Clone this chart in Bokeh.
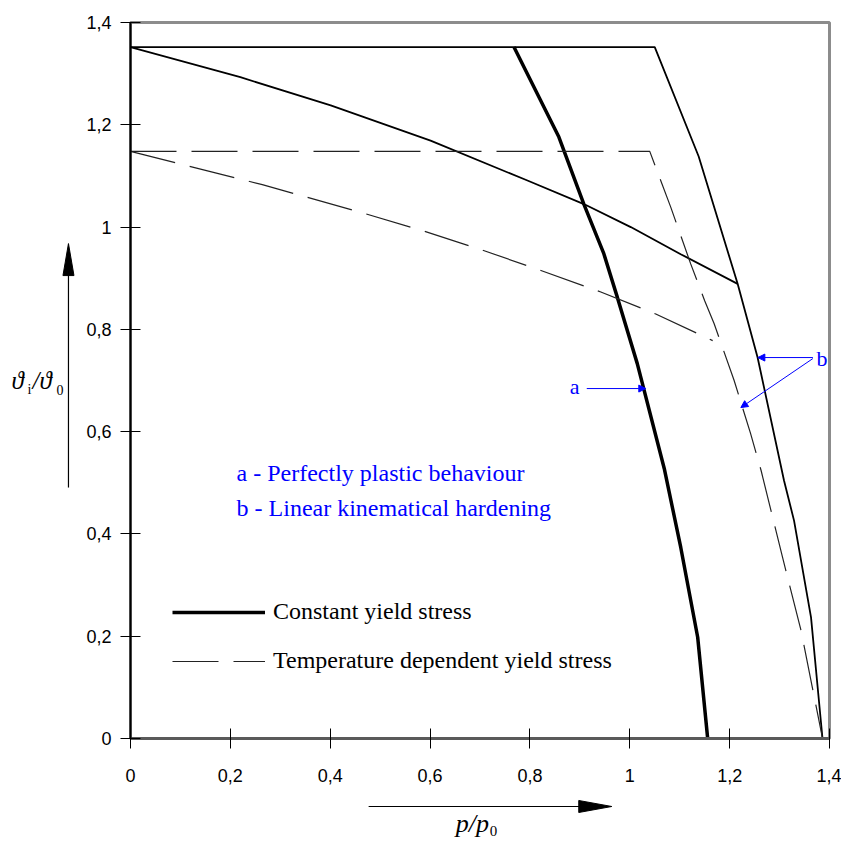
from bokeh.plotting import figure
from bokeh.models import (Range1d, FixedTicker, CustomJSTickFormatter, Label, Arrow,
                          NormalHead, Legend, LegendItem)
from bokeh.core.properties import value
from bokeh.embed import file_html
from bokeh.resources import INLINE

# ---------------- data ----------------
tick_values = [0, 0.2, 0.4, 0.6, 0.8, 1.0, 1.2, 1.4]
tick_labels = ["0", "0,2", "0,4", "0,6", "0,8", "1", "1,2", "1,4"]

# b - linear kinematical hardening, constant yield stress (thin solid)
b_const_x = [0.0, 1.05, 1.138, 1.216, 1.256, 1.309, 1.329, 1.363, 1.386]
b_const_y = [1.352, 1.352, 1.138, 0.889, 0.745, 0.504, 0.426, 0.237, 0.0]

# shakedown boundary, constant yield stress (thin solid, decreasing)
sd_const_x = [0.0, 0.22, 0.401, 0.601, 0.795, 0.908, 1.002, 1.102, 1.216]
sd_const_y = [1.352, 1.293, 1.238, 1.169, 1.091, 1.045, 1.0, 0.947, 0.889]

# a - perfectly plastic, constant yield stress (thick)
a_const_x = [0.768, 0.858, 0.908, 0.948, 0.975, 1.015, 1.069, 1.102, 1.136, 1.156]
a_const_y = [1.352, 1.176, 1.045, 0.948, 0.863, 0.733, 0.528, 0.374, 0.198, 0.0]

# b - linear kinematical hardening, temperature dependent yield stress (dashed)
b_temp_x = [0.0, 1.04, 1.082, 1.122, 1.150, 1.169, 1.209, 1.242, 1.263, 1.306, 1.343, 1.386]
b_temp_y = [1.148, 1.148, 1.039, 0.928, 0.856, 0.811, 0.700, 0.596, 0.524, 0.354, 0.211, 0.0]

# shakedown boundary, temperature dependent yield stress (dashed, decreasing)
sd_temp_x = [0.0, 0.264, 0.471, 0.588, 0.705, 0.822, 0.942, 1.052, 1.166]
sd_temp_y = [1.148, 1.083, 1.026, 0.992, 0.955, 0.915, 0.873, 0.830, 0.778]

SERIF = "Liberation Serif, Times New Roman, Times, serif"
SANS = "Liberation Sans, Arial, Helvetica, sans-serif"

# ---------------- figure ----------------
p = figure(frame_width=699, frame_height=716,
           x_range=Range1d(0, 1.4), y_range=Range1d(0, 1.4),
           min_border_left=130, min_border_right=12, min_border_top=22, min_border_bottom=103,
           output_backend="svg", toolbar_location=None)
p.grid.visible = False
p.outline_line_color = "#8c8c8c"
p.outline_line_width = 3
p.background_fill_color = "white"
p.border_fill_color = "white"

fmt = CustomJSTickFormatter(args=dict(vals=tick_values, labs=tick_labels), code="""
const i = vals.findIndex(v => Math.abs(v - tick) < 1e-9);
return i >= 0 ? labs[i] : '';
""")
for ax in (p.xaxis[0], p.yaxis[0]):
    ax.ticker = FixedTicker(ticks=tick_values)
    ax.formatter = fmt
    ax.major_tick_in = 10
    ax.major_tick_out = 10
    ax.minor_tick_line_color = None
    ax.major_tick_line_color = "black"
    ax.major_tick_line_width = 1
    ax.major_label_text_font = SANS
    ax.major_label_text_font_size = "18px"
    ax.major_label_text_color = "black"
p.yaxis[0].axis_line_color = "black"
p.yaxis[0].axis_line_width = 2
p.yaxis[0].major_label_standoff = 9
p.xaxis[0].axis_line_color = "#5a5a5a"
p.xaxis[0].axis_line_width = 3
p.xaxis[0].major_label_standoff = 20

r_bc = p.line(b_const_x, b_const_y, line_color="black", line_width=1.8)
r_sc = p.line(sd_const_x, sd_const_y, line_color="black", line_width=1.8)
r_a = p.line(a_const_x, a_const_y, line_color="black", line_width=3.5)
r_bt = p.line(b_temp_x, b_temp_y, line_color="#222222", line_width=1.2, line_dash="46 15")
r_st = p.line(sd_temp_x, sd_temp_y, line_color="#222222", line_width=1.2, line_dash="46 15")

legend = Legend(items=[LegendItem(label="Constant yield stress", renderers=[r_a]),
                       LegendItem(label="Temperature dependent yield stress", renderers=[r_bt])],
                location=(42, 64), glyph_width=93, glyph_height=22, label_height=22,
                label_standoff=8, spacing=22, padding=0, margin=0,
                border_line_alpha=0, background_fill_alpha=0,
                label_text_font=SERIF, label_text_font_size="24px",
                label_text_color="black")
p.add_layout(legend)

# ---------------- annotations ----------------
def px(xp):
    return (xp - 130) / 499.0

def py(yp):
    return (738 - yp) / 511.5

blue = "#0000ff"
p.add_layout(Label(x=px(236), y=py(472), text="a - Perfectly plastic behaviour",
                   text_font=SERIF, text_font_size="24px", text_color=blue,
                   text_baseline="middle"))
p.add_layout(Label(x=px(236), y=py(507), text="b - Linear kinematical hardening",
                   text_font=SERIF, text_font_size="24px", text_color=blue,
                   text_baseline="middle"))

p.add_layout(Label(x=px(574), y=py(386), text="a", text_font=SERIF,
                   text_font_size="22px", text_color=blue, text_align="center",
                   text_baseline="middle"))
p.add_layout(Label(x=px(821), y=py(358), text="b", text_font=SERIF,
                   text_font_size="22px", text_color=blue, text_align="center",
                   text_baseline="middle"))
for (xs, ys, xe, ye) in [(586, 388, 645, 388), (812, 357, 757, 357), (812, 358, 740, 407)]:
    p.add_layout(Arrow(end=NormalHead(size=7, fill_color=blue, line_color=blue, line_width=1),
                       x_start=px(xs), y_start=py(ys), x_end=px(xe), y_end=py(ye),
                       line_color=blue, line_width=1))

# axis arrows and titles (outside the frame, drawn on the overlay level)
p.line(x=[px(368), px(580)], y=[py(806), py(806)], line_color="black", line_width=1.2,
       level="overlay")
p.patch(x=[px(578), px(611), px(578)], y=[py(800), py(806), py(812)],
        fill_color="black", line_color="black", line_width=1, level="overlay")
p.line(x=[px(68), px(68)], y=[py(487), py(273)], line_color="black", line_width=1.2,
       level="overlay")
p.patch(x=[px(62.5), px(68), px(73.5)], y=[py(275), py(243), py(275)],
        fill_color="black", line_color="black", line_width=1, level="overlay")

p.text(x=[px(455)], y=[py(823)], text=["p/p"], text_font=value(SERIF), text_font_size="26px",
       text_font_style="italic", text_baseline="middle", level="overlay")
p.text(x=[px(489)], y=[py(831)], text=["0"], text_font=value(SERIF), text_font_size="15px",
       text_baseline="middle", level="overlay")
p.text(x=[px(11)], y=[py(380)], text=["\u03d1"], text_font=value(SERIF), text_font_size="25px",
       text_font_style="italic", text_baseline="middle", level="overlay")
p.text(x=[px(27)], y=[py(389)], text=["i"], text_font=value(SERIF), text_font_size="14px",
       text_baseline="middle", level="overlay")
p.text(x=[px(32)], y=[py(380)], text=["/\u03d1"], text_font=value(SERIF), text_font_size="25px",
       text_font_style="italic", text_baseline="middle", level="overlay")
p.text(x=[px(56)], y=[py(389)], text=["0"], text_font=value(SERIF), text_font_size="14px",
       text_baseline="middle", level="overlay")

open("out.html", "w").write(file_html(p, INLINE))
